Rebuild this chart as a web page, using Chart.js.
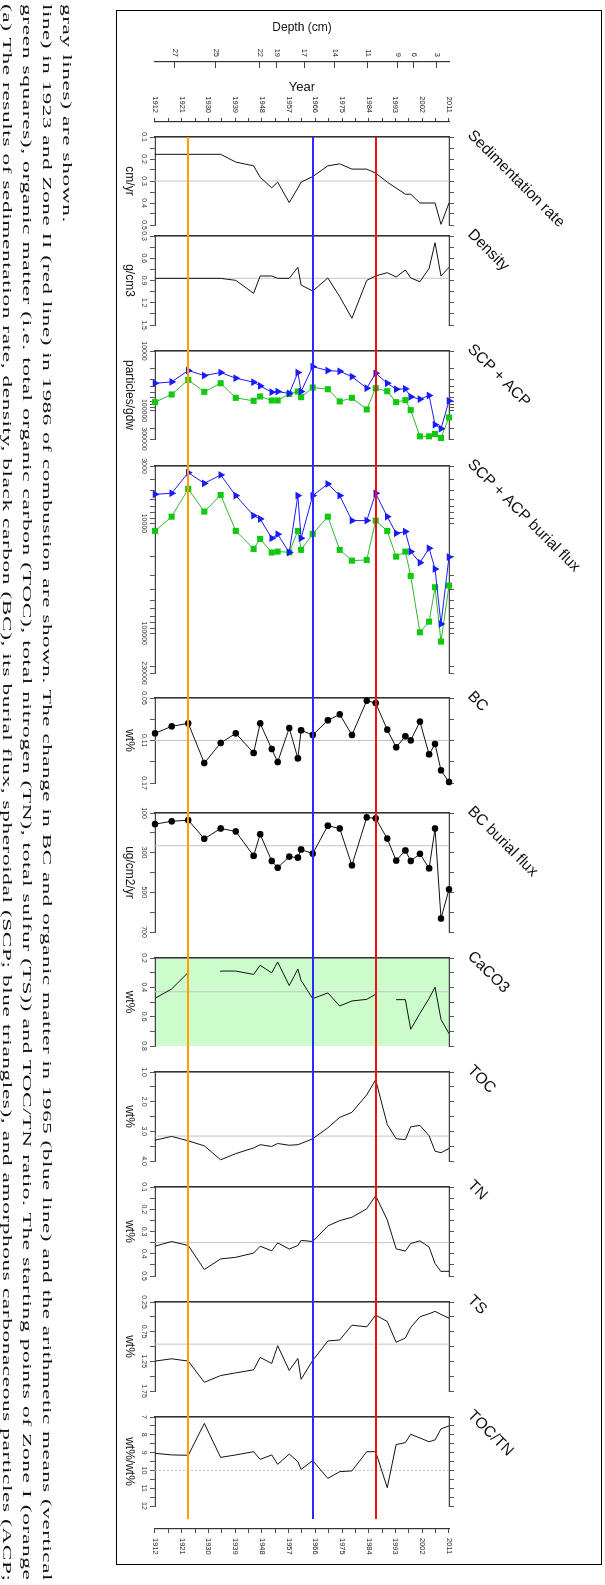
<!DOCTYPE html>
<html><head><meta charset="utf-8">
<script src="https://cdn.jsdelivr.net/npm/chart.js@4/dist/chart.umd.min.js"></script>
<style>
html,body{margin:0;padding:0;background:#fff;width:605px;height:1585px;overflow:hidden;}
#box{position:absolute;left:116px;top:10px;width:486px;height:1555px;border:1.5px solid #000;box-sizing:border-box;}
#rot{position:absolute;left:0;top:0;width:1585px;height:605px;transform-origin:0 0;transform:translate(605px,0) rotate(90deg);}
#rot canvas{position:absolute;top:0;}
.capline{position:absolute;white-space:nowrap;height:20px;line-height:20px;font-family:"Liberation Serif","Times New Roman",serif;font-size:12.5px;letter-spacing:0.3px;color:#111;transform-origin:0 0;}
</style></head><body>
<div id="box"></div>
<div id="rot"></div>
<script>
// ---------------- data ----------------
const years = [1912.0, 1917.6, 1923.2, 1928.6, 1934.1, 1939.2, 1945.2, 1947.4, 1951.3, 1953.3, 1957.2, 1960.1, 1961.2, 1965.1, 1970.2, 1974.2, 1978.3, 1983.3, 1986.3, 1990.2, 1993.2, 1996.3, 1998.1, 2001.2, 2004.3, 2006.3, 2008.3, 2011.0];
const sedRate = [0.178, 0.178, 0.178, 0.181, 0.178, 0.214, 0.231, 0.283, 0.331, 0.305, 0.398, 0.332, 0.305, 0.280, 0.231, 0.222, 0.246, 0.246, 0.264, 0.305, 0.332, 0.360, 0.360, 0.400, 0.400, 0.400, 0.497, 0.400];
const density = [0.871, 0.871, 0.871, 0.871, 0.871, 0.898, 1.073, 0.839, 0.839, 0.871, 0.871, 0.722, 0.961, 1.042, 0.866, 1.118, 1.410, 0.898, 0.839, 0.794, 0.853, 0.758, 0.866, 0.916, 0.736, 0.390, 0.839, 0.722];
const scp = [34750, 33000, 21300, 25800, 23000, 28600, 33400, 38500, 49100, 47900, 51700, 23000, 47900, 18300, 21300, 21900, 26900, 42100, 23600, 34750, 43800, 43200, 58800, 64300, 55800, 172800, 201500, 68600];
const acp = [72200, 53700, 30500, 48500, 34750, 61100, 68600, 58000, 67700, 67700, 52400, 47900, 59600, 41000, 43800, 70300, 61100, 95700, 42100, 47300, 72200, 66800, 98200, 270700, 270700, 247500, 288700, 130300];
const scpFlux = [5430, 5310, 3450, 4320, 3620, 5580, 8490, 9100, 13640, 12540, 18400, 5580, 13640, 5580, 4370, 5580, 9420, 9420, 5310, 8670, 12290, 11870, 18050, 22760, 16830, 26000, 82300, 20230];
const acpFlux = [11700, 8680, 4850, 7800, 5510, 11700, 17060, 13830, 18400, 18050, 18300, 11700, 17400, 12460, 8680, 17400, 21810, 21500, 9420, 11700, 20040, 18050, 30100, 98000, 78400, 38100, 119000, 36800];
const bc = [0.0999, 0.0900, 0.0858, 0.1418, 0.1135, 0.0999, 0.1276, 0.0858, 0.1220, 0.1404, 0.0924, 0.1352, 0.0956, 0.1022, 0.0815, 0.0731, 0.1022, 0.0538, 0.0571, 0.0947, 0.1196, 0.1041, 0.1098, 0.0834, 0.1295, 0.1149, 0.1521, 0.1686];
const bcFlux = [156, 142, 136, 230, 178, 193, 316, 207, 342, 376, 320, 325, 284, 305, 164, 178, 364, 122, 127, 229, 340, 289, 342, 306, 379, 178, 632, 485];
const caco3 = [0.475, 0.411, 0.298, null, 0.294, 0.289, 0.312, 0.250, 0.301, 0.227, 0.388, 0.276, 0.353, 0.477, 0.438, 0.527, 0.493, 0.482, 0.447, null, 0.484, 0.484, 0.686, 0.578, 0.475, 0.399, 0.619, 0.715];
const toc = [3.30, 3.17, 3.32, 3.49, 3.96, 3.75, 3.56, 3.45, 3.51, 3.41, 3.47, 3.45, 3.41, 3.25, 2.88, 2.53, 2.36, 1.77, 1.26, 2.77, 3.25, 3.28, 2.85, 2.80, 3.15, 3.67, 3.72, 3.58];
const tn = [0.366, 0.345, 0.363, 0.471, 0.423, 0.416, 0.397, 0.366, 0.387, 0.351, 0.379, 0.363, 0.340, 0.345, 0.275, 0.251, 0.236, 0.198, 0.139, 0.248, 0.378, 0.388, 0.354, 0.342, 0.370, 0.444, 0.480, 0.479];
const ts = [1.246, 1.207, 1.246, 1.603, 1.490, 1.444, 1.393, 1.184, 1.286, 0.986, 1.405, 1.201, 1.552, 1.235, 0.907, 0.890, 0.641, 0.669, 0.471, 0.578, 0.929, 0.856, 0.680, 0.499, 0.448, 0.408, 0.459, 0.522];
const tocTn = [9.04, 9.13, 9.15, 7.36, 9.27, 9.13, 8.95, 9.38, 9.13, 9.66, 9.08, 9.51, 9.94, 9.45, 10.45, 10.07, 10.03, 8.95, 8.95, 10.97, 8.55, 8.44, 7.97, 8.18, 8.39, 8.29, 7.67, 7.50];
// arithmetic means (gray lines)
const sedMean = 0.30, densityMean = 0.87, bcMean = 0.11, bcFluxMean = 265, caco3Mean = 0.43, tocMean = 3.16, tnMean = 0.35, tsMean = 0.96, tocTnMean = 10.0;
// zone lines
const zoneYears = [1923.2, 1965.1, 1986.3];
const zoneColors = ['#ffa000', '#2a2aff', '#f01010'];
// tick labels
const yearTickLabels = ['1912','1921','1930','1939','1948','1957','1966','1975','1984','1993','2002','2011'];
const depthTickLabels = ['27','25','22','19','17','14','11','9','6','3'];
const depthTickYears = [1918.7, 1932.5, 1947.3, 1953.0, 1962.2, 1972.6, 1983.7, 1993.8, 1999.1, 2006.9];
const sedTickLabels = ['0.1','0.2','0.3','0.4','0.5'];
const densityTickLabels = ['0.3','0.6','0.9','1.2','1.5'];
const scpTickLabels = ['10000','100000','300000'];
const scpFluxTickLabels = ['3000','10000','100000','230000'];
const bcTickLabels = ['0.05','0.11','0.17'];
const bcFluxTickLabels = ['100','300','500','700'];
const caco3TickLabels = ['0.2','0.4','0.6','0.8'];
const tocTickLabels = ['1.0','2.0','3.0','4.0'];
const tnTickLabels = ['0.1','0.2','0.3','0.4','0.5'];
const tsTickLabels = ['0.25','0.75','1.25','1.75'];
const tocTnTickLabels = ['7','8','9','10','11','12'];
const captionLines = [
 '(a) The results of sedimentation rate, density, black carbon (BC), its burial flux, spheroidal (SCP; blue triangles), and amorphous carbonaceous particles (ACP;',
 'green squares), organic matter (i.e. total organic carbon (TOC), total nitrogen (TN), total sulfur (TS)) and TOC/TN ratio. The starting points of Zone I (orange',
 'line) in 1923 and Zone II (red line) in 1986 of combustion are shown. The change in BC and organic matter in 1965 (blue line) and the arithmetic means (vertical',
 'gray lines) are shown.'
];

// ---------------- layout ----------------
const YEAR_MIN = 1912, YEAR_MAX = 2011;
const H = 605, AREA_TOP = 156, AREA_BOTTOM = 450;
const BOT_AXIS_H = 33, TOP_AXIS_H = 8, PADX = 24;
const ZONE_X1 = 1519, TITLE_Y = 138;
const BLUE = '#1a1aff', GREEN = '#10c810', GREEN_LINE = '#30b830';

Chart.defaults.font.family = '"Liberation Sans", Arial, sans-serif';
Chart.defaults.color = '#222';

function linTicks(min, max, step) {
  const out = []; const n = Math.round((max - min) / step);
  for (let i = 0; i <= n; i++) out.push(+(min + i * step).toFixed(6));
  return out;
}
function logTicks(min, max) {
  const out = [];
  for (let e = Math.floor(Math.log10(min)); e <= Math.ceil(Math.log10(max)); e++)
    for (let m = 1; m <= 9; m++) { const v = m * Math.pow(10, e); if (v >= min * 0.999 && v <= max * 1.001) out.push(v); }
  if (Math.abs(out[out.length - 1] - max) > max * 1e-6) out.push(max);
  return out;
}
function labelFn(labels) {
  return (v) => { const s = labels.find(l => Math.abs(parseFloat(l) - v) < 1e-6 * Math.max(1, Math.abs(v))); return s === undefined ? '' : s; };
}
const pts = (vals) => vals.map((v, i) => ({ x: v, y: years[i] }));
const meanPts = (m) => [{ x: m, y: YEAR_MIN }, { x: m, y: YEAR_MAX }];

function lineSet(vals, extra) {
  return Object.assign({ data: pts(vals), borderColor: '#111', borderWidth: 1, pointRadius: 0, tension: 0, spanGaps: false, clip: false }, extra || {});
}
function dotSet(vals) {
  return lineSet(vals, { pointRadius: 3.3, pointStyle: 'circle', pointBackgroundColor: '#000', pointBorderColor: '#000', pointBorderWidth: 0 });
}
function meanSet(m, dashed) {
  return { data: meanPts(m), borderColor: '#c4c4c4', borderWidth: 1, pointRadius: 0, borderDash: dashed ? [2, 2] : [], clip: false };
}
function scpSets(blueVals, greenVals) {
  return [
    lineSet(blueVals, { borderColor: BLUE, pointStyle: 'triangle', pointRadius: 4.5, pointBackgroundColor: BLUE, pointBorderColor: BLUE, pointBorderWidth: 0 }),
    lineSet(greenVals, { borderColor: GREEN_LINE, pointStyle: 'rect', pointRadius: 4.3, pointBackgroundColor: GREEN, pointBorderColor: GREEN, pointBorderWidth: 0 })
  ];
}

const panels = [
  { title: 'Sedimentation rate', unit: 'cm/yr', left: 137, right: 225, type: 'linear', min: 0.1, max: 0.5, step: 0.05, labels: sedTickLabels, sets: [lineSet(sedRate), meanSet(sedMean)] },
  { title: 'Density', unit: 'g/cm3', left: 236, right: 325, type: 'linear', min: 0.3, max: 1.5, step: 0.15, labels: densityTickLabels, sets: [lineSet(density), meanSet(densityMean)] },
  { title: 'SCP + ACP', unit: 'particles/gdw', left: 351, right: 439, type: 'logarithmic', min: 10000, max: 300000, labels: scpTickLabels, sets: scpSets(scp, acp) },
  { title: 'SCP + ACP burial flux', unit: '', left: 466, right: 673, type: 'logarithmic', min: 3000, max: 230000, labels: scpFluxTickLabels, sets: scpSets(scpFlux, acpFlux) },
  { title: 'BC', unit: 'wt%', left: 698, right: 783, type: 'linear', min: 0.05, max: 0.17, step: 0.03, labels: bcTickLabels, sets: [dotSet(bc), meanSet(bcMean)] },
  { title: 'BC burial flux', unit: 'ug/cm2/yr', left: 813, right: 932, type: 'linear', min: 100, max: 700, step: 100, labels: bcFluxTickLabels, sets: [dotSet(bcFlux), meanSet(bcFluxMean)] },
  { title: 'CaCO3', unit: 'wt%', left: 958, right: 1046, type: 'linear', min: 0.2, max: 0.8, step: 0.1, labels: caco3TickLabels, sets: [lineSet(caco3), meanSet(caco3Mean)], bg: '#ccfccc' },
  { title: 'TOC', unit: 'wt%', left: 1072, right: 1161, type: 'linear', min: 1.0, max: 4.0, step: 0.5, labels: tocTickLabels, sets: [lineSet(toc), meanSet(tocMean)] },
  { title: 'TN', unit: 'wt%', left: 1187, right: 1276, type: 'linear', min: 0.1, max: 0.5, step: 0.05, labels: tnTickLabels, sets: [lineSet(tn), meanSet(tnMean)] },
  { title: 'TS', unit: 'wt%', left: 1302, right: 1391, type: 'linear', min: 0.25, max: 1.75, step: 0.25, labels: tsTickLabels, sets: [lineSet(ts), meanSet(tsMean)] },
  { title: 'TOC/TN', unit: 'wt%/wt%', left: 1417, right: 1506, type: 'linear', min: 7, max: 12, step: 0.5, labels: tocTnTickLabels, sets: [lineSet(tocTn), meanSet(tocTnMean, true)] }
];

const rot = document.getElementById('rot');
function makeCanvas(left, width) {
  const c = document.createElement('canvas');
  c.width = width; c.height = H;
  c.style.left = left + 'px'; c.style.width = width + 'px'; c.style.height = H + 'px';
  rot.appendChild(c);
  return c;
}

const bgPlugin = {
  id: 'panelBg',
  beforeDraw(chart, args, opts) {
    if (!opts.color) return;
    const a = chart.chartArea, ctx = chart.ctx;
    ctx.save(); ctx.fillStyle = opts.color; ctx.fillRect(a.left + 1, a.top, a.right - a.left - 1, a.bottom - a.top); ctx.restore();
  }
};

panels.forEach(p => {
  const w = (p.right - p.left) + 2 * PADX;
  const c = makeCanvas(p.left - PADX, w);
  const tickVals = p.type === 'logarithmic' ? logTicks(p.min, p.max) : linTicks(p.min, p.max, p.step);
  const setTicks = s => { s.ticks = tickVals.map(v => ({ value: v })); };
  const gridOpt = { display: true, drawOnChartArea: false, drawTicks: true, tickLength: 5, color: '#555', lineWidth: 1 };
  const borderOpt = { display: true, color: '#444', width: 1.2 };
  new Chart(c, {
    type: 'line',
    data: { datasets: p.sets },
    plugins: [bgPlugin],
    options: {
      responsive: false, animation: false, events: [], indexAxis: 'y',
      layout: { padding: { left: PADX, right: PADX, top: AREA_TOP - TOP_AXIS_H, bottom: H - AREA_BOTTOM - BOT_AXIS_H } },
      plugins: { legend: { display: false }, tooltip: { enabled: false }, panelBg: { color: p.bg || null } },
      scales: {
        x: {
          type: p.type, min: p.min, max: p.max, position: 'bottom',
          afterBuildTicks: setTicks, afterFit: s => { s.height = BOT_AXIS_H; },
          ticks: { autoSkip: false, maxRotation: 0, minRotation: 0, padding: 2, font: { size: 7 }, color: '#333', callback: labelFn(p.labels) },
          grid: gridOpt, border: borderOpt,
          title: { display: !!p.unit, text: p.unit, font: { size: 12 }, padding: 0, color: '#111' }
        },
        x2: {
          type: p.type, min: p.min, max: p.max, position: 'top',
          afterBuildTicks: setTicks, afterFit: s => { s.height = TOP_AXIS_H; },
          ticks: { display: false }, grid: gridOpt, border: borderOpt
        },
        y: {
          type: 'linear', min: YEAR_MIN, max: YEAR_MAX, position: 'left',
          afterFit: s => { s.width = 0; },
          ticks: { display: false }, grid: { display: false }, border: { display: true, color: '#333', width: 1.6 }
        }
      }
    }
  });
});

// frame chart: year axes, depth axis, zone lines, panel titles
const framePlugin = {
  id: 'frameDeco',
  afterDraw(chart) {
    const ctx = chart.ctx, ys = chart.scales.year;
    ctx.save();
    zoneYears.forEach((yr, i) => {
      const py = Math.round(ys.getPixelForValue(yr));
      ctx.strokeStyle = zoneColors[i]; ctx.lineWidth = 2;
      ctx.beginPath(); ctx.moveTo(panels[0].left, py); ctx.lineTo(ZONE_X1, py); ctx.stroke();
    });
    ctx.fillStyle = '#111';
    ctx.font = '15.5px "Liberation Sans", Arial, sans-serif';
    ctx.textAlign = 'left'; ctx.textBaseline = 'alphabetic';
    panels.forEach(p => {
      ctx.save(); ctx.translate(p.left - 1, TITLE_Y); ctx.rotate(-Math.PI / 4); ctx.fillText(p.title, 0, 0); ctx.restore();
    });
    ctx.restore();
  }
};
const yearTicks = linTicks(YEAR_MIN, YEAR_MAX, 4.5);
const yearAxisGrid = { display: true, drawOnChartArea: false, drawTicks: true, tickLength: 4, color: '#444', lineWidth: 1 };
const fc = makeCanvas(0, 1585);
new Chart(fc, {
  type: 'line',
  data: { datasets: [] },
  plugins: [framePlugin],
  options: {
    responsive: false, animation: false, events: [],
    layout: { padding: { left: 0, right: 16, top: AREA_TOP, bottom: H - AREA_BOTTOM } },
    plugins: { legend: { display: false }, tooltip: { enabled: false } },
    scales: {
      x: { type: 'linear', min: 0, max: 1, display: false },
      year: {
        type: 'linear', axis: 'y', position: 'left', weight: 0, min: YEAR_MIN, max: YEAR_MAX,
        afterBuildTicks: s => { s.ticks = yearTicks.map(v => ({ value: v })); }, afterFit: s => { s.width = 60; },
        ticks: { autoSkip: false, padding: 5, font: { size: 7.5 }, color: '#222', callback: labelFn(yearTickLabels) },
        grid: yearAxisGrid, border: { display: true, color: '#333', width: 1.2 },
        title: { display: true, text: 'Year', font: { size: 13 }, padding: { top: 18, bottom: 0 }, color: '#111' }
      },
      depth: {
        type: 'linear', axis: 'y', position: 'left', weight: 1, min: YEAR_MIN, max: YEAR_MAX,
        afterBuildTicks: s => { s.ticks = depthTickYears.map(v => ({ value: v })); }, afterFit: s => { s.width = 62; },
        ticks: { autoSkip: false, padding: 11, font: { size: 7.5 }, color: '#222', callback: (v, i) => depthTickLabels[i] },
        grid: { display: true, drawOnChartArea: false, drawTicks: true, tickLength: -6, color: '#444', lineWidth: 1 },
        border: { display: true, color: '#333', width: 1.2 },
        title: { display: true, text: 'Depth (cm)', font: { size: 12 }, padding: { top: 20, bottom: 0 }, color: '#111' }
      },
      yearR: {
        type: 'linear', axis: 'y', position: 'right', min: YEAR_MIN, max: YEAR_MAX,
        afterBuildTicks: s => { s.ticks = yearTicks.map(v => ({ value: v })); }, afterFit: s => { s.width = 40; },
        ticks: { autoSkip: false, padding: 5, font: { size: 7.5 }, color: '#222', callback: labelFn(yearTickLabels) },
        grid: yearAxisGrid, border: { display: true, color: '#333', width: 1.2 }
      }
    }
  }
});

// caption, laid out in the unrotated frame: first line lowest (it ends up leftmost after rotation)
const CAP_X = 4, CAP_Y1 = 587.5, CAP_STEP = 20, CAP_LEN = 1577;
const capDivs = captionLines.map((t, i) => {
  const d = document.createElement('div');
  d.className = 'capline'; d.textContent = t;
  d.style.left = CAP_X + 'px'; d.style.top = (CAP_Y1 - i * CAP_STEP) + 'px';
  rot.appendChild(d); return d;
});
const lens = capDivs.map(d => d.offsetWidth);
capDivs.forEach((d, i) => { const k = i < 3 ? CAP_LEN / lens[i] : CAP_LEN / lens[0]; d.style.transform = 'scaleX(' + k + ')'; });
</script>
</body></html>
